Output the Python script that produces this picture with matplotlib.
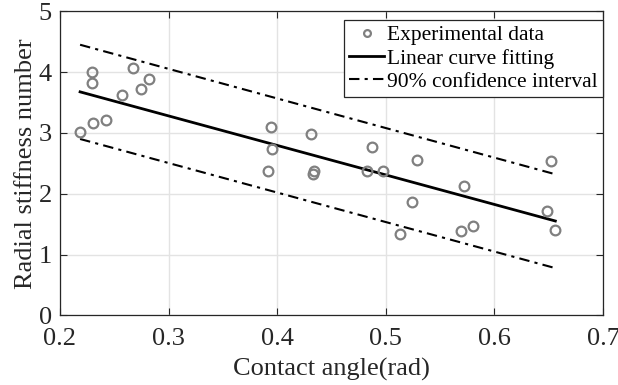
import matplotlib
matplotlib.use("Agg")
import matplotlib.pyplot as plt
import numpy as np

plt.rcParams['font.family'] = ['Liberation Serif', 'DejaVu Serif']
plt.rcParams['mathtext.fontset'] = 'stix'

# Experimental data
exp_x = [0.2185, 0.2298, 0.2298, 0.2307, 0.2427, 0.2571, 0.2673, 0.2746, 0.2817,
         0.3946, 0.3955, 0.3919, 0.4312, 0.4342, 0.4330, 0.4876, 0.4830, 0.4972,
         0.5290, 0.5244, 0.5134,
         0.5720, 0.5693, 0.5803, 0.6524, 0.6488, 0.6561]
exp_y = [3.01, 4.00, 3.82, 3.17, 3.21, 3.63, 4.06, 3.72, 3.88,
         3.09, 2.74, 2.38, 2.98, 2.37, 2.33, 2.76, 2.38, 2.37,
         2.56, 1.87, 1.33,
         2.12, 1.38, 1.47, 2.54, 1.72, 1.41]

# Linear fit and 90% confidence interval (endpoints)
fit_x = [0.2185, 0.6561]
fit_y = [3.675, 1.551]
upper_y = [4.45, 2.32]
lower_y = [2.90, 0.776]

fig = plt.figure(figsize=(6.18, 3.85), dpi=100)
ax = fig.add_axes([60/618, 1 - 315.3/385, (603-60)/618, (315.3-11.3)/385])

dash = (0, (5, 2.5, 1.5, 2.5))
ax.plot(exp_x, exp_y, 'o', ls='none', mfc='none', mec='#808080', mew=1.6, ms=7,
        label='Experimental data', zorder=3)
ax.plot(fit_x, fit_y, '-', color='black', lw=2.0, label='Linear curve fitting', zorder=2)
ax.plot(fit_x, upper_y, color='black', lw=1.5, ls=dash,
        label='90% confidence interval', zorder=2)
ax.plot(fit_x, lower_y, color='black', lw=1.5, ls=dash, zorder=2)

ax.set_xlim(0.2, 0.7)
ax.set_ylim(0, 5)
ax.set_xticks([0.2, 0.3, 0.4, 0.5, 0.6, 0.7])
ax.set_xticklabels(['0.2', '0.3', '0.4', '0.5', '0.6', '0.7'])
ax.set_yticks([0, 1, 2, 3, 4, 5])
ax.set_yticklabels(['0', '1', '2', '3', '4', '5'])
ax.grid(True, color='#e3e3e3', lw=1.0)
ax.set_axisbelow(True)
ax.tick_params(direction='in', top=True, right=True, length=5, width=0.8,
               color='#262626', labelsize=19, labelcolor='#262626')
ax.tick_params(axis='x', pad=9)
ax.tick_params(axis='y', pad=6)
for s in ax.spines.values():
    s.set_color('#262626')
    s.set_linewidth(0.9)

ax.set_xlabel('Contact angle(rad)', fontsize=19, color='#262626', labelpad=6)
ax.set_ylabel('Radial stiffness number', fontsize=19, color='#262626', labelpad=1)

leg = ax.legend(loc='upper right', bbox_to_anchor=(1.0, 0.972), borderaxespad=0,
                fontsize=15.5, frameon=True, fancybox=False, edgecolor='#262626',
                framealpha=1, handlelength=1.6, handletextpad=0.15, borderpad=0.25,
                labelspacing=0.15, markerscale=0.7)
leg.get_frame().set_linewidth(0.9)

fig.savefig('out.png', dpi=100)
